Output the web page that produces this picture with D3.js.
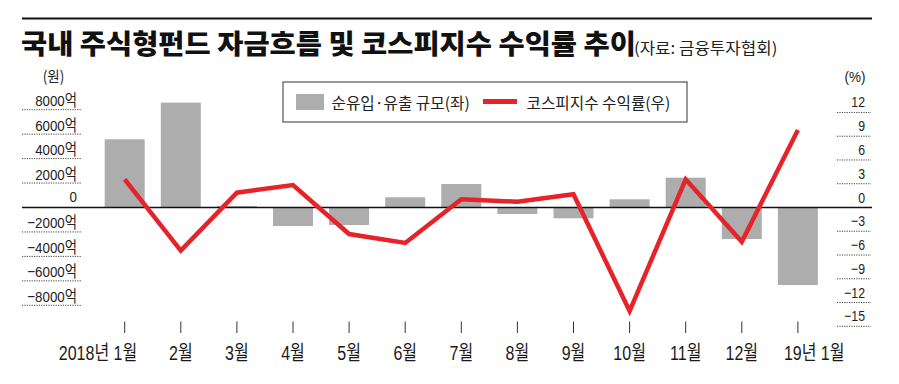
<!DOCTYPE html>
<html>
<head>
<meta charset="utf-8">
<script src="https://cdn.jsdelivr.net/npm/d3@7/dist/d3.min.js"></script>
<style>
  html, body { margin: 0; padding: 0; background: #fff; }
  svg { display: block; }
</style>
</head>
<body>
<svg id="chart" width="899" height="384"></svg>
<script>
// ---- data ----
const months = ["1월","2월","3월","4월","5월","6월","7월","8월","9월","10월","11월","12월","19년 1월"];
const monthLabels = ["2018년 1월","2월","3월","4월","5월","6월","7월","8월","9월","10월","11월","12월","19년 1월"];
const fundFlow = [5580, 8576, 120, -1514, -1432, 835, 1923, -532, -884, 671, 2439, -2578, -6342]; // 억원
const kospiReturn = [3.56, -5.45, 1.87, 2.84, -3.35, -4.48, 1.04, 0.73, 1.67, -13.07, 3.56, -4.32, 9.79]; // %
const leftTicks = [8000, 6000, 4000, 2000, 0, -2000, -4000, -6000, -8000];
const rightTicks = [12, 9, 6, 3, 0, -3, -6, -9, -12, -15];
const titleText = "국내 주식형펀드 자금흐름 및 코스피지수 수익률 추이";
const sourceText = "(자료: 금융투자협회)";
const legendBar = "순유입·유출 규모(좌)";
const legendLine = "코스피지수 수익률(우)";

// ---- setup ----
const svg = d3.select("#chart");
const BAR = "#adadad", RED = "#e52329", INK = "#222";
const LAT = "'Liberation Sans', 'Noto Sans CJK KR', sans-serif";
const KR = "'Noto Sans CJK KR', sans-serif";

const x = d3.scaleBand().domain(months).range([96.65, 825.95]).paddingInner(0.287).paddingOuter(0.1435);
const yL = d3.scaleLinear().domain([-10000, 10000]).range([207.5 + 122.25, 207.5 - 122.25]);
const yR = d3.scaleLinear().domain([-15, 12]).range([207.5 + 7.92 * 15, 207.5 - 7.92 * 12]);
const cx = m => x(m) + x.bandwidth() / 2;

function txt(px, py, str, o) {
  o = o || {};
  return svg.append("text")
    .attr("transform", `translate(${px},${py}) scale(${o.sx || 1},1)`)
    .attr("text-anchor", o.anchor || "start")
    .attr("font-family", o.family || LAT)
    .attr("font-size", o.size || 15)
    .attr("font-weight", o.weight || 400)
    .attr("fill", o.fill || INK)
    .text(str);
}

// top rule
svg.append("line").attr("x1", 22).attr("x2", 872).attr("y1", 18.5).attr("y2", 18.5)
  .attr("stroke", "#111").attr("stroke-width", 2);

// title
txt(21, 54, titleText, { family: KR, size: 27.5, weight: 900, fill: "#111", sx: 1.035 });
txt(634, 54, sourceText, { family: KR, size: 16, fill: "#222", sx: 1.05 });

// unit labels
txt(53.5, 82, "(원)", { family: KR, size: 15, anchor: "middle", sx: 0.9 });
txt(855, 82, "(%)", { family: LAT, size: 15, anchor: "middle", sx: 0.9 });

// left grid + labels
leftTicks.forEach(v => {
  if (v !== 0) {
    svg.append("line").attr("x1", 22).attr("x2", 82).attr("y1", yL(v)).attr("y2", yL(v))
      .attr("stroke", "#444").attr("stroke-width", 1).attr("stroke-dasharray", "1.2,1.2");
  }
  const lab = v === 0 ? "0" : (v < 0 ? "−" + Math.abs(v) + "억" : v + "억");
  txt(77, yL(v) - (v === 0 ? 5.5 : 3.5), lab, { size: 15.5, anchor: "end", sx: 0.86 });
});

// right grid + labels
rightTicks.forEach(v => {
  if (v !== 0) {
    svg.append("line").attr("x1", 837).attr("x2", 871).attr("y1", yR(v)).attr("y2", yR(v))
      .attr("stroke", "#444").attr("stroke-width", 1).attr("stroke-dasharray", "1.2,1.2");
  }
  const lab = v < 0 ? "−" + Math.abs(v) : String(v);
  txt(865, yR(v) - 5, lab, { size: 15, anchor: "end", sx: 0.82 });
});

// bars
svg.append("g").selectAll("rect").data(months).join("rect")
  .attr("x", m => x(m))
  .attr("width", x.bandwidth())
  .attr("y", (m, i) => Math.min(yL(fundFlow[i]), yL(0)))
  .attr("height", (m, i) => Math.abs(yL(fundFlow[i]) - yL(0)))
  .attr("fill", BAR);

// zero line
svg.append("line").attr("x1", 22).attr("x2", 872).attr("y1", yL(0)).attr("y2", yL(0))
  .attr("stroke", "#111").attr("stroke-width", 1.5);

// kospi line
const line = d3.line().x((d, i) => cx(months[i])).y(d => yR(d));
svg.append("path").datum(kospiReturn).attr("d", line)
  .attr("fill", "none").attr("stroke", RED).attr("stroke-width", 4.5)
  .attr("stroke-linejoin", "miter").attr("stroke-miterlimit", 10);

// x ticks and labels
months.forEach((m, i) => {
  const c = cx(m);
  svg.append("line").attr("x1", c).attr("x2", c).attr("y1", 321.5).attr("y2", 333)
    .attr("stroke", "#333").attr("stroke-width", 1);
  let anchor = "middle", px = c;
  if (i === 0) { anchor = "end"; px = c + 12.5; }
  if (i === months.length - 1) { anchor = "start"; px = c - 14; }
  txt(px, 359.5, monthLabels[i], { size: 20, anchor: anchor, sx: 0.8, fill: "#1a1a1a" });
});

// legend
svg.append("rect").attr("x", 283).attr("y", 82).attr("width", 404).attr("height", 40)
  .attr("fill", "#fff").attr("stroke", "#333").attr("stroke-width", 1);
svg.append("rect").attr("x", 296).attr("y", 94).attr("width", 28).attr("height", 16).attr("fill", BAR);
txt(331.5, 109, legendBar, { family: KR, size: 16, sx: 0.98 });
svg.append("line").attr("x1", 483).attr("x2", 517).attr("y1", 101.5).attr("y2", 101.5)
  .attr("stroke", RED).attr("stroke-width", 5);
txt(526.5, 109, legendLine, { family: KR, size: 16, sx: 0.98 });
</script>
</body>
</html>
